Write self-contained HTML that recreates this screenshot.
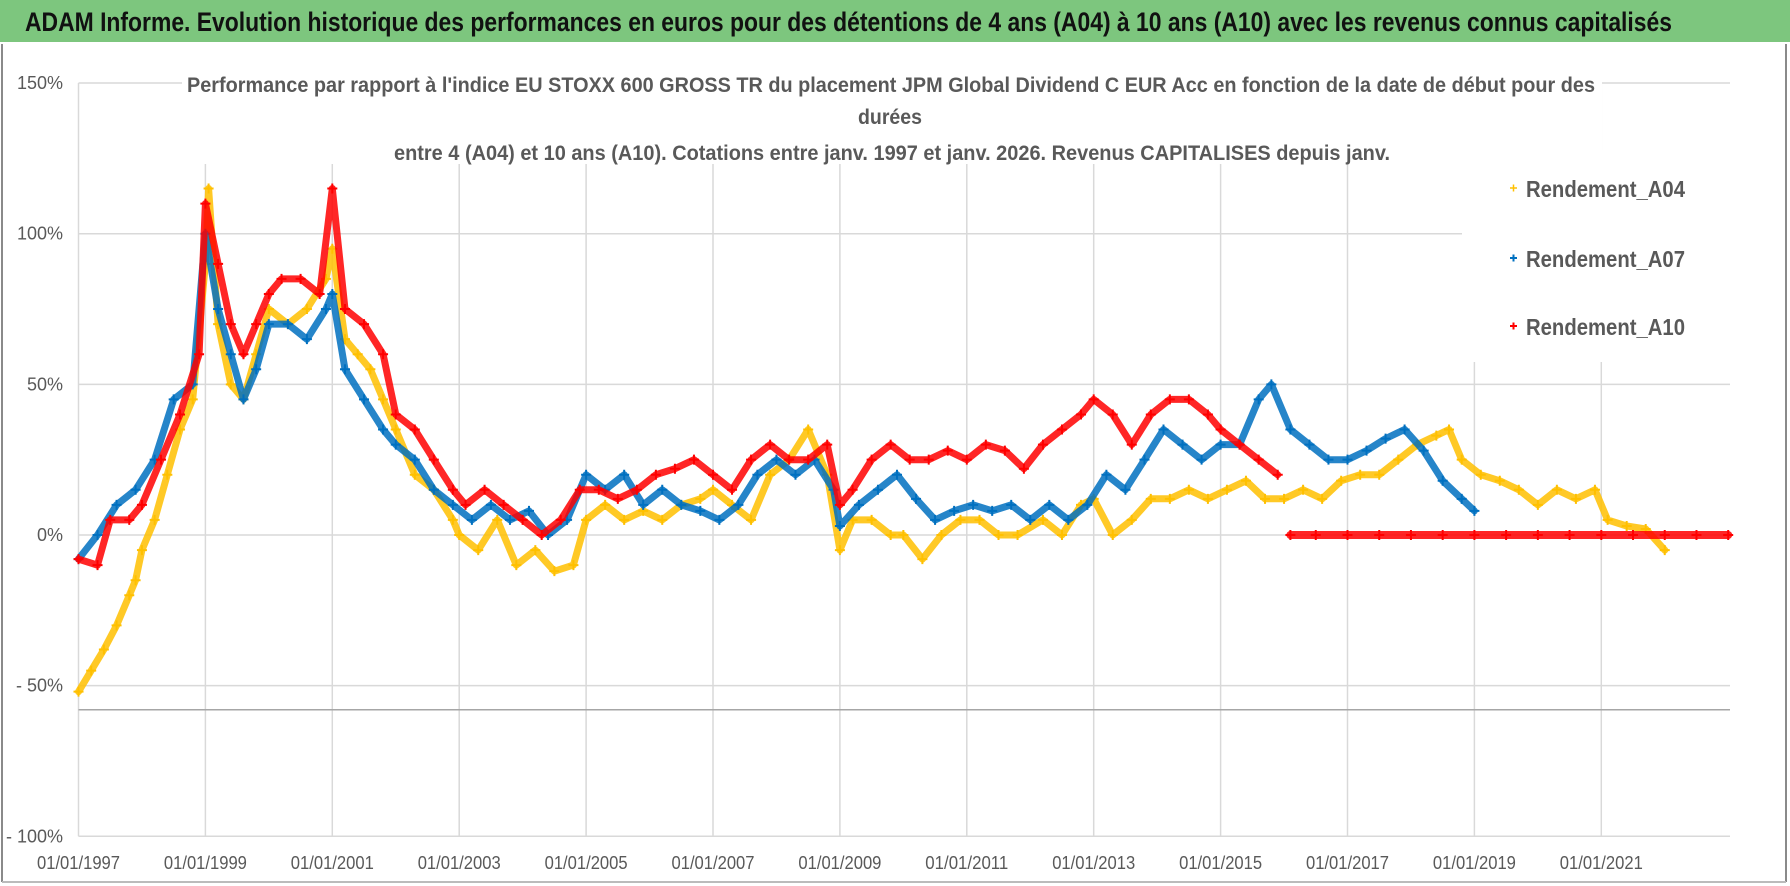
<!DOCTYPE html>
<html><head><meta charset="utf-8">
<style>
html,body{margin:0;padding:0;background:#fff;}
svg{display:block;}
text{font-family:"Liberation Sans Narrow","Liberation Sans",sans-serif;}
</style></head>
<body>
<svg id="chart" width="1790" height="886" viewBox="0 0 1790 886" xmlns="http://www.w3.org/2000/svg">
<rect x="0" y="0" width="1790" height="886" fill="#fff"/>
<rect x="0" y="0" width="1790" height="42" fill="#7DC67E"/>
<text x="25" y="31" font-size="27" font-weight="bold" fill="#111" textLength="1647" lengthAdjust="spacingAndGlyphs">ADAM Informe. Evolution historique des performances en euros pour des détentions de 4 ans (A04) à 10 ans (A10) avec les revenus connus capitalisés</text>
<line x1="2" y1="44" x2="2" y2="882" stroke="#8a8a8a" stroke-width="2"/>
<line x1="1786" y1="44" x2="1786" y2="882" stroke="#8a8a8a" stroke-width="2"/>
<line x1="2" y1="882" x2="1786" y2="882" stroke="#bbb" stroke-width="2"/>
<g id="grid"></g>
<g id="yaxis"></g>
<g id="xaxis"></g>
<line id="refline" stroke="#a6a6a6" stroke-width="1.5"/>
<g id="plot"></g>
<rect x="182" y="72" width="1420" height="92" fill="#fff"/>
<rect x="1462" y="150" width="268" height="212" fill="#fff"/>
<g font-weight="bold" fill="#595959" font-size="21">
<text x="187" y="92" textLength="1408" lengthAdjust="spacingAndGlyphs">Performance par rapport à l'indice EU STOXX 600 GROSS TR  du placement JPM Global Dividend C EUR Acc en fonction de la date de début pour des</text>
<text x="858" y="124" textLength="64" lengthAdjust="spacingAndGlyphs">durées</text>
<text x="394" y="160" textLength="996" lengthAdjust="spacingAndGlyphs">entre 4 (A04) et 10 ans (A10).  Cotations entre janv. 1997 et janv. 2026. Revenus CAPITALISES depuis janv.</text>
</g>
<g font-weight="bold" fill="#595959" font-size="23">
<g><path d="M1510 188h7M1513.5 184.5v7" stroke="#FFC000" stroke-width="1.5"/><text x="1526" y="197" textLength="159" lengthAdjust="spacingAndGlyphs">Rendement_A04</text></g>
<g><path d="M1510 258h7M1513.5 254.5v7" stroke="#0070C0" stroke-width="2"/><text x="1526" y="267" textLength="159" lengthAdjust="spacingAndGlyphs">Rendement_A07</text></g>
<g><path d="M1510 326h7M1513.5 322.5v7" stroke="#FF0000" stroke-width="2"/><text x="1526" y="335" textLength="159" lengthAdjust="spacingAndGlyphs">Rendement_A10</text></g>
</g>
</svg>
<script>
const yTickValues = [150, 100, 50, 0, -50, -100];
const yTickLabels = ["150%", "100%", "50%", "0%", "- 50%", "- 100%"];
const xTickYears = [1997, 1999, 2001, 2003, 2005, 2007, 2009, 2011, 2013, 2015, 2017, 2019, 2021];
const xTickLabels = ["01/01/1997","01/01/1999","01/01/2001","01/01/2003","01/01/2005","01/01/2007","01/01/2009","01/01/2011","01/01/2013","01/01/2015","01/01/2017","01/01/2019","01/01/2021"];
const refLineValue = -58;

const a04Years = [1997.0,1997.2,1997.4,1997.6,1997.8,1997.9,1998.0,1998.2,1998.4,1998.6,1998.8,1999.0,1999.05,1999.2,1999.4,1999.6,1999.8,2000.0,2000.3,2000.6,2000.9,2001.0,2001.2,2001.4,2001.6,2001.8,2002.0,2002.3,2002.6,2002.9,2003.0,2003.3,2003.6,2003.9,2004.2,2004.5,2004.8,2005.0,2005.3,2005.6,2005.9,2006.2,2006.5,2006.8,2007.0,2007.3,2007.6,2007.9,2008.2,2008.5,2008.8,2009.0,2009.2,2009.5,2009.8,2010.0,2010.3,2010.6,2010.9,2011.2,2011.5,2011.8,2012.2,2012.5,2012.8,2013.0,2013.3,2013.6,2013.9,2014.2,2014.5,2014.8,2015.1,2015.4,2015.7,2016.0,2016.3,2016.6,2016.9,2017.2,2017.5,2017.8,2018.1,2018.4,2018.6,2018.8,2019.1,2019.4,2019.7,2020.0,2020.3,2020.6,2020.9,2021.1,2021.4,2021.7,2022.0];
const a04Values = [-52,-45,-38,-30,-20,-15,-5,5,20,35,45,90,115,70,50,45,60,75,70,75,85,95,65,60,55,45,35,20,15,5,0,-5,5,-10,-5,-12,-10,5,10,5,8,5,10,12,15,10,5,20,25,35,20,-5,5,5,0,0,-8,0,5,5,0,0,5,0,10,12,0,5,12,12,15,12,15,18,12,12,15,12,18,20,20,25,30,33,35,25,20,18,15,10,15,12,15,5,3,2,-5];

const a07Years = [1997.0,1997.3,1997.6,1997.9,1998.2,1998.5,1998.8,1999.0,1999.2,1999.4,1999.6,1999.8,2000.0,2000.3,2000.6,2000.9,2001.0,2001.2,2001.5,2001.8,2002.0,2002.3,2002.6,2002.9,2003.2,2003.5,2003.8,2004.1,2004.4,2004.7,2005.0,2005.3,2005.6,2005.9,2006.2,2006.5,2006.8,2007.1,2007.4,2007.7,2008.0,2008.3,2008.6,2008.9,2009.0,2009.3,2009.6,2009.9,2010.2,2010.5,2010.8,2011.1,2011.4,2011.7,2012.0,2012.3,2012.6,2012.9,2013.2,2013.5,2013.8,2014.1,2014.4,2014.7,2015.0,2015.3,2015.6,2015.8,2016.1,2016.4,2016.7,2017.0,2017.3,2017.6,2017.9,2018.2,2018.5,2018.8,2019.0];
const a07Values = [-8,0,10,15,25,45,50,100,75,60,45,55,70,70,65,75,80,55,45,35,30,25,15,10,5,10,5,8,0,5,20,15,20,10,15,10,8,5,10,20,25,20,25,15,3,10,15,20,12,5,8,10,8,10,5,10,5,10,20,15,25,35,30,25,30,30,45,50,35,30,25,25,28,32,35,28,18,12,8];

const a10Years = [1997.0,1997.3,1997.5,1997.8,1998.0,1998.3,1998.6,1998.9,1999.0,1999.2,1999.4,1999.6,1999.8,2000.0,2000.2,2000.5,2000.8,2001.0,2001.2,2001.5,2001.8,2002.0,2002.3,2002.6,2002.9,2003.1,2003.4,2003.7,2004.0,2004.3,2004.6,2004.9,2005.2,2005.5,2005.8,2006.1,2006.4,2006.7,2007.0,2007.3,2007.6,2007.9,2008.2,2008.5,2008.8,2009.0,2009.2,2009.5,2009.8,2010.1,2010.4,2010.7,2011.0,2011.3,2011.6,2011.9,2012.2,2012.5,2012.8,2013.0,2013.3,2013.6,2013.9,2014.2,2014.5,2014.8,2015.0,2015.3,2015.6,2015.9];
const a10Values = [-8,-10,5,5,10,25,40,60,110,90,70,60,70,80,85,85,80,115,75,70,60,40,35,25,15,10,15,10,5,0,5,15,15,12,15,20,22,25,20,15,25,30,25,25,30,10,15,25,30,25,25,28,25,30,28,22,30,35,40,45,40,30,40,45,45,40,35,30,25,20];
const a10ZeroYears = [2016.1,2016.5,2017.0,2017.5,2018.0,2018.5,2019.0,2019.5,2020.0,2020.5,2021.0,2021.5,2022.0,2022.5,2023.0];
const a10ZeroValues = [0,0,0,0,0,0,0,0,0,0,0,0,0,0,0];

const X0 = 78.5, PXY = 63.45, Y0 = 535, PXV = 3.013;
const plotRight = 1730;
function xScale(yr){ return X0 + (yr - 1997) * PXY; }
function yScale(v){ return Y0 - v * PXV; }
const NS = "http://www.w3.org/2000/svg";
function mk(tag, attrs, parent){ const e = document.createElementNS(NS, tag); for (const k in attrs) e.setAttribute(k, attrs[k]); parent.appendChild(e); return e; }

const grid = document.getElementById('grid');
yTickValues.forEach(function(v){
  const l = mk('line', {x1: X0, x2: plotRight, y1: yScale(v), y2: yScale(v), stroke: '#d9d9d9', 'stroke-width': 1.5}, grid);
  
  
});
xTickYears.forEach(function(yr){
  const l = mk('line', {x1: xScale(yr), x2: xScale(yr), y1: yScale(150), y2: yScale(-100), stroke: '#d9d9d9', 'stroke-width': 1.5}, grid);
  
  
});
const yaxis = document.getElementById('yaxis');
yTickValues.forEach(function(v, i){
  const t = mk('text', {x: 63, y: yScale(v) + 6, 'text-anchor': 'end', 'font-size': 18, fill: '#595959'}, yaxis);
  t.textContent = yTickLabels[i];
  
  
});
const xaxis = document.getElementById('xaxis');
xTickYears.forEach(function(yr, i){
  const t = mk('text', {x: xScale(yr), y: 869, 'text-anchor': 'middle', 'font-size': 18, fill: '#595959', textLength: 83, lengthAdjust: 'spacingAndGlyphs'}, xaxis);
  t.textContent = xTickLabels[i];
  
  
});
const rl = document.getElementById('refline');
rl.setAttribute('x1', X0); rl.setAttribute('x2', plotRight);
rl.setAttribute('y1', yScale(refLineValue)); rl.setAttribute('y2', yScale(refLineValue));

const plot = document.getElementById('plot');
function drawSeries(years, values, color, name, bandW){
  const g = mk('g', {}, plot);
  
  
  const pts = years.map(function(yr, i){ return xScale(yr).toFixed(1) + ',' + yScale(values[i]).toFixed(1); }).join(' ');
  const pl = mk('polyline', {points: pts, fill: 'none', stroke: color, 'stroke-width': bandW, 'stroke-linejoin': 'round', 'stroke-linecap': 'round', opacity: 0.85}, g);
  
  
  years.forEach(function(yr, i){
    const x = xScale(yr), y = yScale(values[i]);
    const p = mk('path', {d: 'M' + (x - 5) + ' ' + y + 'h10M' + x + ' ' + (y - 5) + 'v10', stroke: color, 'stroke-width': 2}, g);
    
    
  });
}
drawSeries(a04Years, a04Values, '#FFC000', 'series-a04', 7);
drawSeries(a07Years, a07Values, '#0070C0', 'series-a07', 7);
drawSeries(a10Years, a10Values, '#FF0000', 'series-a10', 7);
drawSeries(a10ZeroYears, a10ZeroValues, '#FF0000', 'series-a10-zero', 8);
</script>
</body></html>
